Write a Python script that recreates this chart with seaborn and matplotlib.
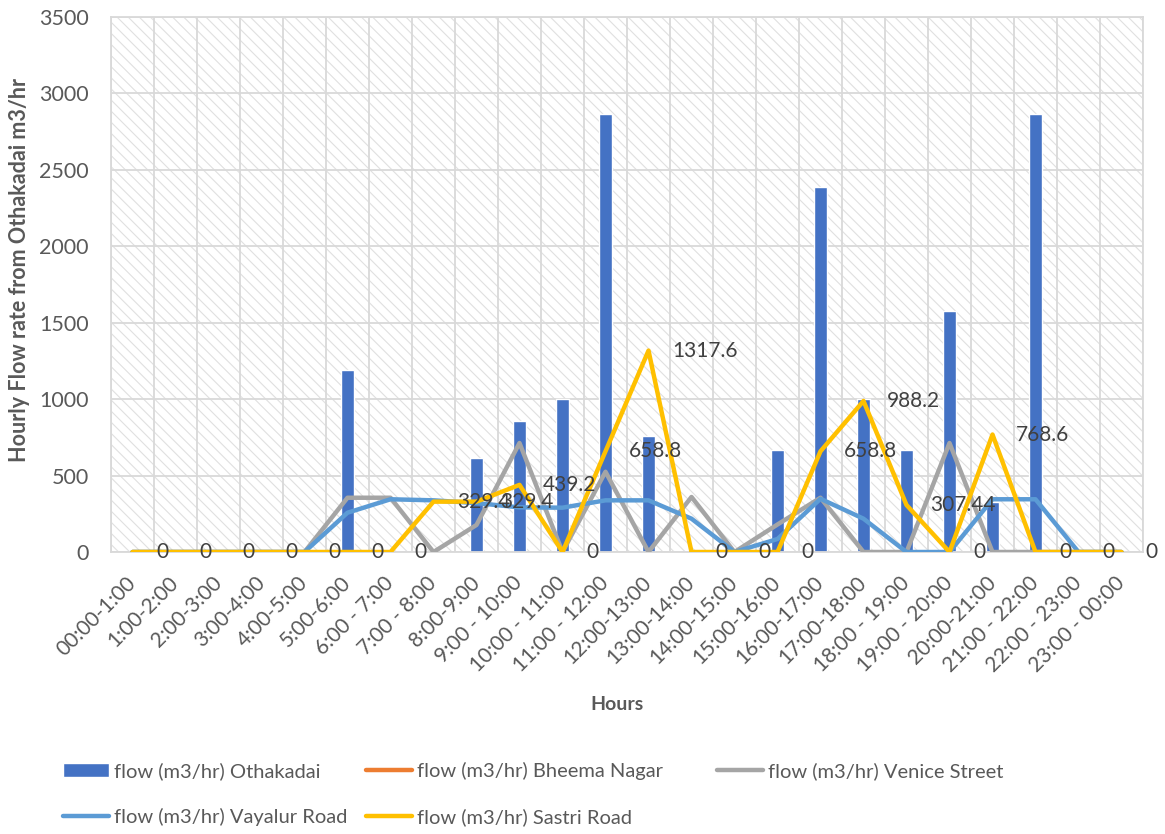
import matplotlib.pyplot as plt
import seaborn as sns
import numpy as np
import pandas as pd
from matplotlib.patches import Rectangle, Patch
from matplotlib.lines import Line2D

hours = ["00:00-1:00", "1:00-2:00", "2:00-3:00", "3:00-4:00", "4:00-5:00", "5:00-6:00",
         "6:00 - 7:00", "7:00 - 8:00", "8:00-9:00", "9:00 - 10:00", "10:00 - 11:00",
         "11:00 - 12:00", "12:00-13:00", "13:00-14:00", "14:00-15:00", "15:00-16:00",
         "16:00-17:00", "17:00-18:00", "18:00 - 19:00", "19:00 - 20:00", "20:00-21:00",
         "21:00 - 22:00", "22:00 - 23:00", "23:00 - 00:00"]

othakadai = [0, 0, 0, 0, 0, 1192, 0, 0, 615, 857, 1000, 2865, 760, 0, 0, 665,
             2385, 1000, 665, 1575, 330, 2865, 0, 0]
bheema_nagar = [np.nan] * 24
venice_street = [0, 0, 0, 0, 0, 355, 355, 0, 177, 713, 0, 525, 0, 360, 0, 180,
                 355, 0, 0, 713, 0, 0, 0, 0]
vayalur_road = [0, 0, 0, 0, 0, 257, 345, 338, 320, 292, 290, 338, 338, 218, 0, 85,
                348, 218, 0, 0, 345, 345, 0, 0]
sastri_road = [0, 0, 0, 0, 0, 0, 0, 329.4, 329.4, 439.2, 0, 658.8, 1317.6, 0, 0, 0,
               658.8, 988.2, 307.44, 0, 768.6, 0, 0, 0]

names = ["flow (m3/hr) Othakadai", "flow (m3/hr) Bheema Nagar", "flow (m3/hr) Venice Street",
         "flow (m3/hr) Vayalur Road", "flow (m3/hr) Sastri Road"]
colors = ["#4472C4", "#ED7D31", "#A5A5A5", "#5B9BD5", "#FFC000"]

sns.set_style("white")
plt.rcParams['font.family'] = ['Lato', 'DejaVu Sans']
plt.rcParams['hatch.color'] = '#e0e0e0'
plt.rcParams['hatch.linewidth'] = 0.8

pos = np.arange(len(hours))
df = pd.DataFrame({"hour": hours, "pos": pos, "othakadai": othakadai,
                   "venice": venice_street, "vayalur": vayalur_road, "sastri": sastri_road})

fig = plt.figure(figsize=(11.65, 8.34), dpi=100)
ax = fig.add_axes([111 / 1165, 1 - 552 / 834, (1143 - 111) / 1165, (552 - 17) / 834])

# hatched plot area like the excel pattern fill
ax.add_patch(Rectangle((0, 0), 1, 1, transform=ax.transAxes, facecolor="white",
                       edgecolor="#e0e0e0", hatch="\\\\\\", lw=0, zorder=0))

sns.barplot(data=df, x="hour", y="othakadai", order=hours, color=colors[0], saturation=1,
            width=0.29, ax=ax, zorder=2)

line_kw = dict(lw=3.2, solid_joinstyle="round", solid_capstyle="round", zorder=3)
ax.plot(pos, bheema_nagar, color=colors[1], **line_kw)
sns.lineplot(data=df, x="pos", y="venice", color=colors[2], ax=ax, **line_kw)
sns.lineplot(data=df, x="pos", y="vayalur", color=colors[3], ax=ax, **line_kw)
sns.lineplot(data=df, x="pos", y="sastri", color=colors[4], ax=ax, **line_kw)

# data labels for Sastri Road, placed right of the points
for x_val, y_val in zip(pos, sastri_road):
    ax.annotate(f"{y_val:g}", (x_val, y_val), xytext=(17, 0), textcoords="offset points",
                ha="left", va="center", fontsize=15, color="#404040",
                annotation_clip=False, zorder=5)

ax.set_xlim(-0.5, len(hours) - 0.5)
ax.set_ylim(0, 3500)
ax.set_yticks(range(0, 3501, 500))
ax.set_xticks(pos)
ax.set_xticklabels(hours, rotation=45, ha="right", va="center", rotation_mode="anchor")
ax.set_xticks(np.arange(-0.5, len(hours)), minor=True)
ax.tick_params(axis="x", which="major", length=0, pad=20, labelsize=15, labelcolor="#595959")
ax.tick_params(axis="x", which="minor", length=7, width=1.3, color="#d9d9d9")
ax.tick_params(axis="y", length=0, pad=16, labelsize=15.5, labelcolor="#595959")
ax.set_axisbelow(True)
ax.grid(False)
ax.grid(axis="y", which="major", color="#d9d9d9", lw=1.3, zorder=1)
ax.grid(axis="x", which="minor", color="#d9d9d9", lw=1.3, zorder=1)
for s in ax.spines.values():
    s.set_color("#d9d9d9")
    s.set_linewidth(1.3)
ax.set_xlabel("")
ax.set_ylabel("")
if ax.get_legend() is not None:
    ax.get_legend().remove()

fig.text(617 / 1165, 1 - 704 / 834, "Hours", ha="center", va="center",
         fontsize=14, fontweight="bold", color="#595959")
fig.text(20 / 1165, 1 - 270 / 834, "Hourly Flow rate from Othakadai m3/hr", ha="center",
         va="center", rotation=90, fontsize=15.5, fontweight="bold", color="#595959")

# legend: excel-like layout, two columns plus a third one placed on its own
line_h = lambda c: Line2D([], [], color=c, lw=3.2, solid_capstyle="round")
leg_kw = dict(loc="upper left", frameon=False, fontsize=14.5, handlelength=2.3,
              handleheight=0.75, handletextpad=0.25, columnspacing=0.9,
              labelspacing=1.4, borderpad=0, borderaxespad=0)
leg1 = fig.legend([Patch(facecolor=colors[0]), line_h(colors[3]), line_h(colors[1]), line_h(colors[4])],
                  [names[0], names[3], names[1], names[4]], ncol=2,
                  bbox_to_anchor=(63 / 1165, 1 - 762 / 834), **leg_kw)
leg2 = fig.legend([line_h(colors[2])], [names[2]], ncol=1,
                  bbox_to_anchor=(717 / 1165, 1 - 762 / 834), **leg_kw)
for leg in (leg1, leg2):
    for t in leg.get_texts():
        t.set_color("#595959")

fig.savefig("out.png", dpi=100)
